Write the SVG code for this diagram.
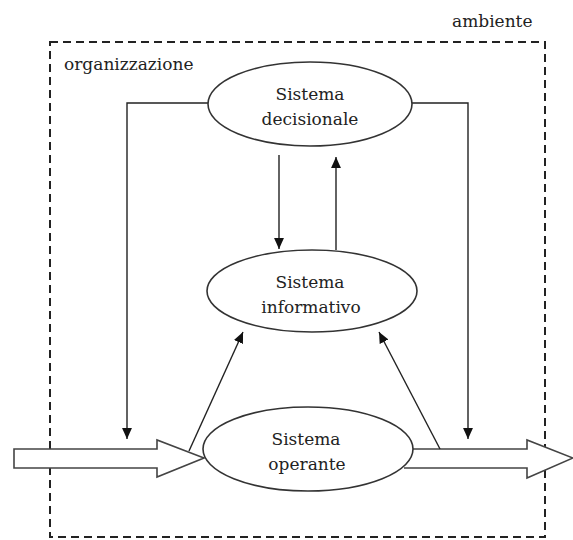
<svg xmlns="http://www.w3.org/2000/svg" width="573" height="540" viewBox="0 0 573 540">
  <defs>
    <marker id="tri" viewBox="0 0 10 10" refX="10" refY="5" markerWidth="11" markerHeight="11" markerUnits="userSpaceOnUse" orient="auto">
      <path d="M0,0.5 L10,5 L0,9.5 Z" fill="#111"/>
    </marker>
    <style>
      .lbl { font-family: "DejaVu Serif", "Liberation Serif", serif; font-size: 17px; fill: #222; }
      .node { fill: #fff; stroke: #333; stroke-width: 1.6; }
      .edge { fill: none; stroke: #222; stroke-width: 1.4; }
      .flow { fill: #fff; stroke: #444; stroke-width: 1.6; }
      .bound { fill: none; stroke: #222; stroke-width: 2; stroke-dasharray: 8 5; }
    </style>
  </defs>
  <rect width="573" height="540" fill="#fff"/>

  <!-- environment / organisation boundary -->
  <g id="boundary">
    <rect class="bound" x="50" y="42" width="495" height="495"/>
    <text class="lbl" x="452" y="27">ambiente</text>
    <text class="lbl" x="64" y="70">organizzazione</text>
  </g>

  <!-- material flows in and out -->
  <g id="flow-in">
    <path class="flow" d="M14,449 L157,449 L157,440 L204,458 L157,477 L157,468 L14,468 Z"/>
  </g>
  <g id="flow-out">
    <path class="flow" d="M404,449 L527,449 L527,440 L573,458 L527,478 L527,468 L404,468"/>
  </g>

  <!-- connectors -->
  <g id="connectors">
    <path class="edge" d="M208,103 L127,103 L127,439" marker-end="url(#tri)"/>
    <path class="edge" d="M412,103 L468,103 L468,439" marker-end="url(#tri)"/>
    <path class="edge" d="M279,155 L279,249" marker-end="url(#tri)"/>
    <path class="edge" d="M336,250 L336,157" marker-end="url(#tri)"/>
    <path class="edge" d="M189,451 L243,332" marker-end="url(#tri)"/>
    <path class="edge" d="M440,449 L379,332" marker-end="url(#tri)"/>
  </g>

  <g id="sistema-decisionale">
    <ellipse class="node" cx="310" cy="104" rx="102" ry="42"/>
    <text class="lbl" x="310" y="100" text-anchor="middle">Sistema</text>
    <text class="lbl" x="310" y="125" text-anchor="middle">decisionale</text>
  </g>

  <g id="sistema-informativo">
    <ellipse class="node" cx="312" cy="291" rx="105" ry="41"/>
    <text class="lbl" x="310" y="288" text-anchor="middle">Sistema</text>
    <text class="lbl" x="311" y="313" text-anchor="middle">informativo</text>
  </g>

  <g id="sistema-operante">
    <ellipse class="node" cx="308" cy="449" rx="105" ry="42"/>
    <text class="lbl" x="306" y="445" text-anchor="middle">Sistema</text>
    <text class="lbl" x="307" y="470" text-anchor="middle">operante</text>
  </g>
</svg>
